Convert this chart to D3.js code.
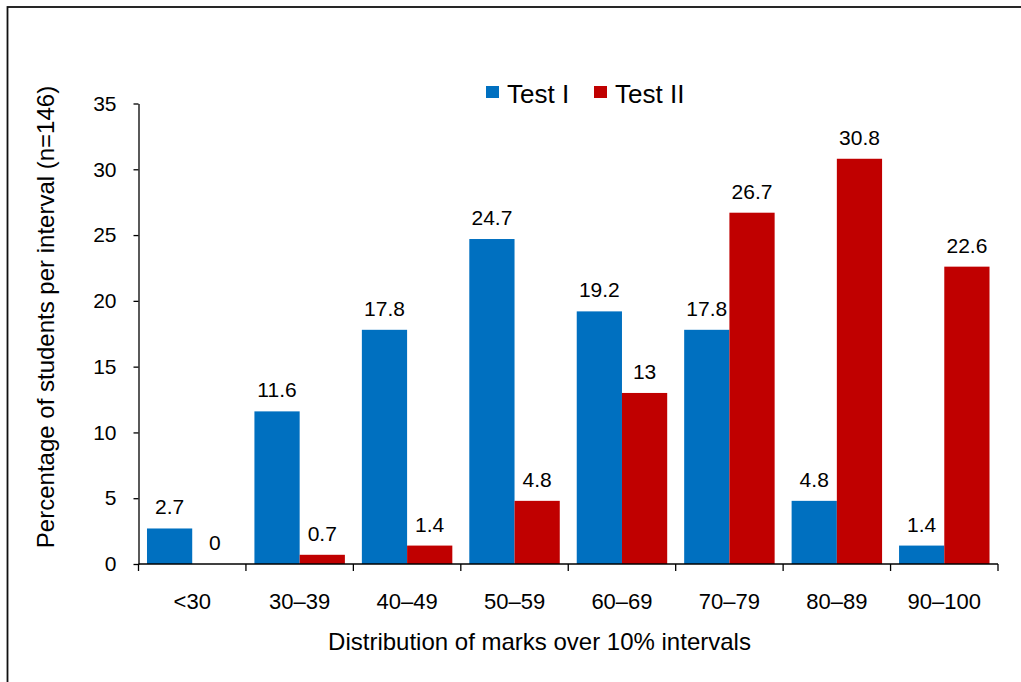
<!DOCTYPE html>
<html>
<head>
<meta charset="utf-8">
<script src="https://cdn.jsdelivr.net/npm/d3@7"></script>
<style>
  html, body { margin: 0; padding: 0; background: #fff; }
  svg { display: block; font-family: "Liberation Sans", Arial, sans-serif; }
</style>
</head>
<body>
<svg id="chart" width="1021" height="682"></svg>
<script>
// Mark intervals and percentage of students in each, for both tests
const categories = ["<30", "30\u201339", "40\u201349", "50\u201359", "60\u201369", "70\u201379", "80\u201389", "90\u2013100"];
const seriesNames = ["Test I", "Test II"];
const testI = [2.7, 11.6, 17.8, 24.7, 19.2, 17.8, 4.8, 1.4];
const testII = [0, 0.7, 1.4, 4.8, 13, 26.7, 30.8, 22.6];
const yTicks = [0, 5, 10, 15, 20, 25, 30, 35];
const colors = ["#0070C0", "#C00000"];

const svg = d3.select("#chart");
const W = 1021, H = 682;
const plot = { left: 138.5, right: 998, top: 103.5, bottom: 564 };

// outer frame, running off the right and bottom edges
svg.append("rect")
  .attr("x", 7.5).attr("y", 7)
  .attr("width", W + 20).attr("height", H + 20)
  .attr("fill", "none").attr("stroke", "#111").attr("stroke-width", 1.8);

const x0 = d3.scaleBand()
  .domain(categories)
  .range([plot.left, plot.right])
  .paddingInner(0.158)
  .paddingOuter(0.079);

const x1 = d3.scaleBand()
  .domain(seriesNames)
  .range([0, x0.bandwidth()]);

const y = d3.scaleLinear().domain([0, 35]).range([plot.bottom, plot.top]);

const rows = categories.map((c, i) => ({
  cat: c,
  vals: [
    { name: seriesNames[0], v: testI[i], color: colors[0] },
    { name: seriesNames[1], v: testII[i], color: colors[1] }
  ]
}));

// bars
const groups = svg.append("g").selectAll("g")
  .data(rows).join("g")
  .attr("transform", d => `translate(${x0(d.cat)},0)`);

groups.selectAll("rect")
  .data(d => d.vals).join("rect")
  .attr("x", d => x1(d.name))
  .attr("y", d => y(d.v))
  .attr("width", x1.bandwidth())
  .attr("height", d => plot.bottom - y(d.v))
  .attr("fill", d => d.color);

// value labels above bars
groups.selectAll("text")
  .data(d => d.vals).join("text")
  .attr("x", d => x1(d.name) + x1.bandwidth() / 2)
  .attr("y", d => y(d.v) - 14)
  .attr("text-anchor", "middle")
  .attr("font-size", 21)
  .attr("fill", "#000")
  .text(d => d.v);

// y axis
const yAxis = d3.axisLeft(y).tickValues(yTicks).tickSize(5).tickSizeOuter(0).tickPadding(17);
const gy = svg.append("g").attr("transform", `translate(${plot.left},0)`).call(yAxis);
gy.select(".domain").attr("stroke", "#000").attr("stroke-width", 1.3);
gy.selectAll(".tick line").attr("stroke", "#000").attr("stroke-width", 1.3);
gy.selectAll(".tick text").attr("font-size", 21).attr("fill", "#000")
  .attr("font-family", "Liberation Sans, Arial, sans-serif");

// x axis: line with tick marks at category boundaries
const gx = svg.append("g");
gx.append("line")
  .attr("x1", plot.left).attr("x2", plot.right)
  .attr("y1", plot.bottom).attr("y2", plot.bottom)
  .attr("stroke", "#000").attr("stroke-width", 1.3);
const step = x0.step();
const bounds = d3.range(categories.length + 1).map(i => plot.left + i * step);
gx.selectAll("line.tk").data(bounds).join("line")
  .attr("class", "tk")
  .attr("x1", d => d).attr("x2", d => d)
  .attr("y1", plot.bottom).attr("y2", plot.bottom + 7)
  .attr("stroke", "#000").attr("stroke-width", 1.3);
gx.selectAll("text").data(categories).join("text")
  .attr("x", d => x0(d) + x0.bandwidth() / 2)
  .attr("y", 609)
  .attr("text-anchor", "middle")
  .attr("font-size", 22)
  .attr("fill", "#000")
  .text(d => d);

// axis titles
svg.append("text")
  .attr("x", 539.5)
  .attr("y", 650)
  .attr("text-anchor", "middle")
  .attr("font-size", 24)
  .attr("fill", "#000")
  .text("Distribution of marks over 10% intervals");

svg.append("text")
  .attr("transform", "translate(54,317) rotate(-90)")
  .attr("text-anchor", "middle")
  .attr("font-size", 24)
  .attr("fill", "#000")
  .text("Percentage of students per interval (n=146)");

// legend
const legend = svg.append("g");
const legendItems = [
  { name: seriesNames[0], color: colors[0], x: 486 },
  { name: seriesNames[1], color: colors[1], x: 594 }
];
legend.selectAll("rect").data(legendItems).join("rect")
  .attr("x", d => d.x).attr("y", 86)
  .attr("width", 13).attr("height", 12)
  .attr("fill", d => d.color);
legend.selectAll("text").data(legendItems).join("text")
  .attr("x", d => d.x + 21).attr("y", 103)
  .attr("font-size", 26)
  .attr("fill", "#000")
  .text(d => d.name);
</script>
</body>
</html>
